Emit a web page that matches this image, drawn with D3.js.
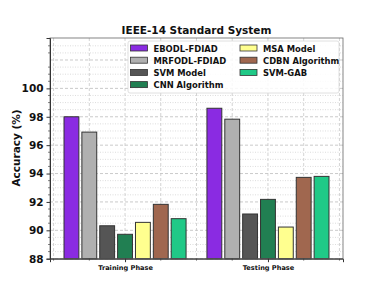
<!DOCTYPE html>
<html>
<head>
<meta charset="utf-8">
<script src="https://cdn.jsdelivr.net/npm/d3@7"></script>
<style>
  body { margin: 0; background: #fff; }
  text { font-family: "DejaVu Sans", sans-serif; font-weight: bold; }
</style>
</head>
<body>
<div id="chart"></div>
<script>
var phases = ["Training Phase", "Testing Phase"];
var models = ["EBODL-FDIAD", "MRFODL-FDIAD", "SVM Model", "CNN Algorithm", "MSA Model", "CDBN Algorithm", "SVM-GAB"];
var colors = ["#8a2be2", "#b0b0b0", "#555555", "#217f52", "#ffff8f", "#a0674f", "#20c987"];
var trainVals = [98.0, 96.92, 90.32, 89.72, 90.56, 91.83, 90.82];
var testVals = [98.6, 97.83, 91.15, 92.18, 90.23, 93.73, 93.8];
var yTicks = [88, 90, 92, 94, 96, 98, 100];

(function() {
    var width = 368, height = 284;
    var pLeft = 50, pRight = 343, pTop = 38, pBottom = 258.7;

    var svg = d3.select("#chart").append("svg")
        .attr("width", width).attr("height", height);

    var x = d3.scaleLinear().domain([-0.525, 1.525]).range([pLeft, pRight]);
    var y = d3.scaleLinear().domain([88, 103.55]).range([pBottom, pTop]);

    // grid
    var minorY = d3.range(88, 103.5, 0.5);
    svg.append("g").selectAll("line").data(minorY).enter().append("line")
        .attr("x1", pLeft).attr("x2", pRight)
        .attr("y1", function(d) { return y(d) }).attr("y2", function(d) { return y(d) })
        .attr("stroke", function(d) { return d % 2 == 0 ? "#bdbdbd" : "#d4d4d4" })
        .attr("stroke-width", 0.8)
        .attr("stroke-dasharray", function(d) { return d % 2 == 0 ? "3,2" : "1,1.5" })

    var minorX = d3.range(-0.5, 1.55, 0.25);
    svg.append("g").selectAll("line").data(minorX).enter().append("line")
        .attr("y1", pTop).attr("y2", pBottom)
        .attr("x1", function(d) { return x(d) }).attr("x2", function(d) { return x(d) })
        .attr("stroke", "#c8c8c8").attr("stroke-width", 0.8)
        .attr("stroke-dasharray", "3,2")

    // bars
    var step = 0.125, bw = 0.104;
    [trainVals, testVals].forEach(function(vals, gi) {
        svg.append("g").selectAll("rect").data(vals).enter().append("rect")
            .attr("x", function(d, i) { return x(gi + (i - 3) * step - bw / 2) })
            .attr("width", x(bw) - x(0))
            .attr("y", function(d) { return y(d) })
            .attr("height", function(d) { return pBottom - y(d) })
            .attr("fill", function(d, i) { return colors[i] })
            .attr("stroke", "#333").attr("stroke-width", 1)
    })

    // frame
    svg.append("rect").attr("x", pLeft).attr("y", pTop)
        .attr("width", pRight - pLeft).attr("height", pBottom - pTop)
        .attr("fill", "none").attr("stroke", "#666").attr("stroke-width", 0.8)

    // axes
    var yAxis = d3.axisLeft(y).tickValues(yTicks).tickSize(3.5).tickPadding(3);
    var gy = svg.append("g").attr("transform", "translate(" + pLeft + ",0)").call(yAxis);
    gy.select(".domain").attr("stroke", "#333");
    gy.selectAll("text").style("font-size", "10.5px").attr("fill", "#111");
    gy.selectAll(".tick line").attr("stroke", "#333");
    svg.append("g").selectAll("line").data(minorY.filter(function(d) { return d % 2 != 0 })).enter().append("line")
        .attr("x1", pLeft - 2).attr("x2", pLeft)
        .attr("y1", function(d) { return y(d) }).attr("y2", function(d) { return y(d) })
        .attr("stroke", "#333").attr("stroke-width", 0.6)

    var xAxis = d3.axisBottom(x).tickValues([0, 1]).tickFormat(function(d) { return phases[d] }).tickSize(3.5).tickPadding(3);
    var gx = svg.append("g").attr("transform", "translate(0," + pBottom + ")").call(xAxis);
    gx.select(".domain").attr("stroke", "#333");
    gx.selectAll("text").style("font-size", "6.6px").attr("fill", "#111");
    gx.selectAll(".tick line").attr("stroke", "#333");
    svg.append("g").selectAll("line").data(minorX.filter(function(d) { return d != 0 && d != 1 })).enter().append("line")
        .attr("y1", pBottom).attr("y2", pBottom + 2)
        .attr("x1", function(d) { return x(d) }).attr("x2", function(d) { return x(d) })
        .attr("stroke", "#333").attr("stroke-width", 0.6)

    // title and label
    svg.append("text").attr("x", (pLeft + pRight) / 2).attr("y", 34)
        .attr("text-anchor", "middle").style("font-size", "10.5px").attr("fill", "#111")
        .text("IEEE-14 Standard System")
    svg.append("text").attr("transform", "translate(20,148) rotate(-90)")
        .attr("text-anchor", "middle").style("font-size", "10.5px").attr("fill", "#111")
        .text("Accuracy (%)")

    // legend
    var lg = svg.append("g");
    lg.append("rect").attr("x", 128).attr("y", 41).attr("width", 211).attr("height", 52)
        .attr("rx", 2).attr("fill", "#fff").attr("fill-opacity", 0.85)
        .attr("stroke", "#d8d8d8").attr("stroke-width", 0.8)
    var items = lg.selectAll("g").data(models).enter().append("g")
        .attr("transform", function(d, i) {
            var col = i < 4 ? 0 : 1, row = i < 4 ? i : i - 4;
            return "translate(" + (col ? 240 : 130.5) + "," + (45 + row * 12.2) + ")";
        })
    items.append("rect").attr("width", 17).attr("height", 6)
        .attr("fill", function(d, i) { return colors[i] })
        .attr("stroke", "#333").attr("stroke-width", 0.8)
    items.append("text").attr("x", 23).attr("y", 6.5)
        .style("font-size", "8.4px").attr("fill", "#111")
        .text(function(d) { return d })
})();
</script>
</body>
</html>
